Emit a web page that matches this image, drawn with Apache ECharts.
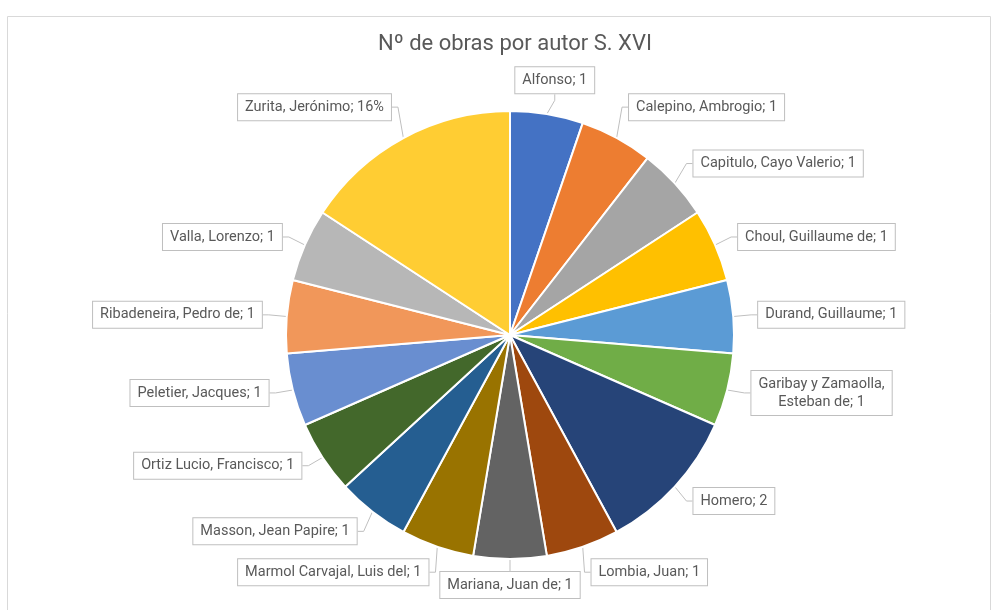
<!DOCTYPE html>
<html>
<head>
<meta charset="utf-8">
<title>Nº de obras por autor S. XVI</title>
<script src="https://cdn.jsdelivr.net/npm/echarts@6/dist/echarts.min.js"></script>
<style>
  html, body { margin: 0; padding: 0; background: #fff; }
  #chart { width: 1001px; height: 610px; }
</style>
</head>
<body>
<div id="chart"></div>
<script>
// Autores y número de obras
const autores = [
  'Alfonso', 'Calepino, Ambrogio', 'Capitulo, Cayo Valerio', 'Choul, Guillaume de',
  'Durand, Guillaume', 'Garibay y Zamaolla, Esteban de', 'Homero', 'Lombia, Juan',
  'Mariana, Juan de', 'Marmol Carvajal, Luis del', 'Masson, Jean Papire',
  'Ortiz Lucio, Francisco', 'Peletier, Jacques', 'Ribadeneira, Pedro de',
  'Valla, Lorenzo', 'Zurita, Jerónimo'
];
const obras = [1, 1, 1, 1, 1, 1, 2, 1, 1, 1, 1, 1, 1, 1, 1, 3];
const etiquetasPorcentaje = ['Zurita, Jerónimo']; // estas muestran % en vez del valor

const colores = [
  '#4472C4', '#ED7D31', '#A5A5A5', '#FFC000', '#5B9BD5', '#70AD47', '#264478', '#9E480E',
  '#636363', '#997300', '#255E91', '#43682B', '#698ED0', '#F1975A', '#B7B7B7', '#FFCD33'
];

const RADIO = 224;
const CX = 510, CY = 335;

const total = obras.reduce((a, b) => a + b, 0);
// ángulo medio de cada porción (grados desde arriba, sentido horario)
const angulos = [];
let acumulado = 0;
obras.forEach(v => {
  angulos.push((acumulado + v / 2) / total * 360);
  acumulado += v;
});

// 0 cerca del eje, 1 lejos: cuánto se desplaza la etiqueta hacia fuera
function empuje(v, desde, ancho) {
  const m = Math.min(1, Math.max(0, (Math.abs(v) - desde) / ancho));
  return Math.sign(v) * m;
}

const chart = echarts.init(document.getElementById('chart'));

const option = {
  animation: false,
  color: colores,
  title: {
    text: 'Nº de obras por autor S. XVI',
    left: 510,
    top: 28,
    textAlign: 'center',
    textStyle: { color: '#595959', fontSize: 22, fontWeight: 'normal', fontFamily: 'Roboto' }
  },
  graphic: [{
    type: 'rect',
    silent: true,
    shape: { x: 7.5, y: 16.5, width: 983, height: 620 },
    style: { fill: 'none', stroke: '#d9d9d9', lineWidth: 1 }
  }],
  series: [{
    type: 'pie',
    center: [CX, CY],
    radius: RADIO,
    startAngle: 90,
    clockwise: true,
    avoidLabelOverlap: false,
    itemStyle: { borderColor: '#fff', borderWidth: 2 },
    label: {
      show: true,
      position: 'outside',
      color: '#595959',
      fontFamily: 'Roboto',
      fontSize: 14.5,
      lineHeight: 18,
      backgroundColor: '#fff',
      borderColor: '#bfbfbf',
      borderWidth: 1,
      padding: [4, 7],
      align: 'center',
      formatter: p => {
        let nombre = p.name.length > 28 ? p.name.replace(', ', ',\n') : p.name;
        if (etiquetasPorcentaje.includes(p.name)) return nombre + '; ' + Math.round(p.percent) + '%';
        return nombre + '; ' + p.value;
      }
    },
    labelLine: {
      show: true,
      length: 10,
      length2: 6,
      lineStyle: { color: '#bfbfbf', width: 1 }
    },
    labelLayout: p => {
      // la esquina más cercana de la etiqueta toca un óvalo algo mayor que la tarta
      const t = angulos[p.dataIndex] * Math.PI / 180;
      const s = Math.sin(t), c = Math.cos(t);
      const rx = RADIO + 24;
      const ry = c > 0 ? RADIO + 20 : RADIO + 12;
      const w = p.labelRect.width, h = p.labelRect.height;
      return {
        x: CX + rx * s + empuje(s, 0.15, 0.15) * w / 2,
        y: CY - ry * c - empuje(c, 0.5, 0.4) * h / 2,
        align: 'center',
        verticalAlign: 'middle'
      };
    },
    data: autores.map((n, i) => ({ name: n, value: obras[i] }))
  }]
};

chart.setOption(option);
</script>
</body>
</html>
